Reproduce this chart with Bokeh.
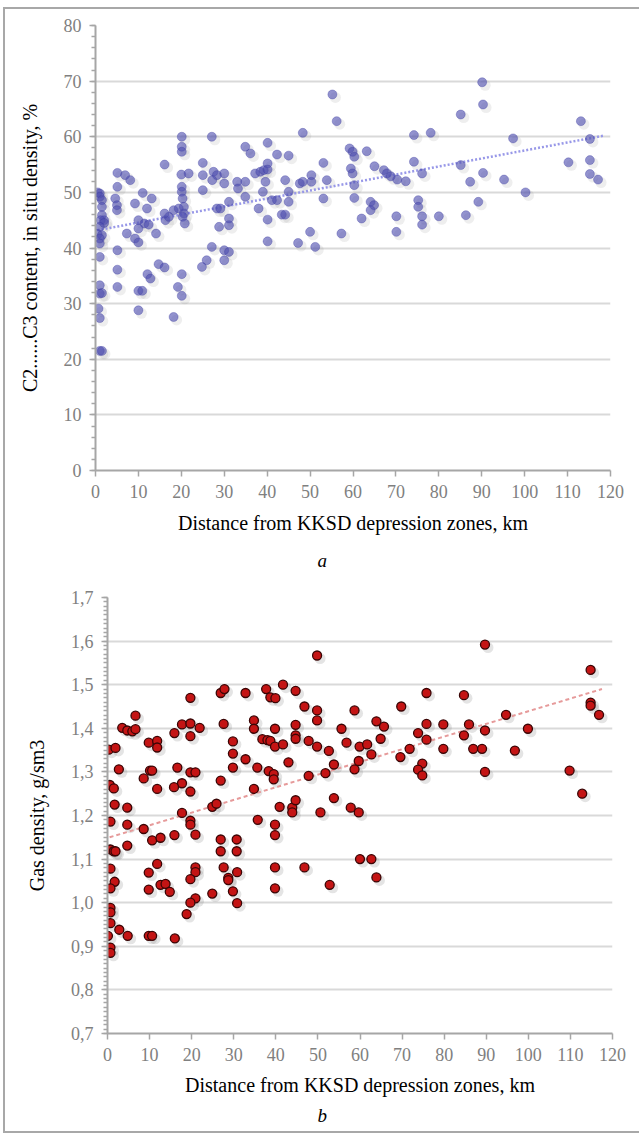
import numpy as np
from bokeh.plotting import figure
from bokeh.layouts import column
from bokeh.models import FixedTicker, CustomJSTickFormatter, Title, Range1d
from bokeh.embed import file_html
from bokeh.resources import INLINE

# ---------------- chart a: C2..C3 content vs distance ----------------
dist_a = [0.5, 1.0, 1.0, 1.5, 1.5, 1.5, 2.0, 1.2, 2.0, 1.0, 0.5, 1.5, 1.0, 1.0, 1.0, 1.0, 1.0, 1.5, 0.7, 1.0, 1.0, 1.5,
          4.6, 5.0, 5.0, 5.1, 5.1, 5.1, 5.1, 5.1, 6.9, 8.1, 7.3,
          9.2, 11.0, 13.1, 12.0, 10.0, 11.4, 12.4, 10.0, 9.2, 10.0, 10.0, 10.9, 10.0, 12.1, 12.8,
          14.1, 16.3, 17.1, 16.1, 18.2, 19.4, 16.1, 14.7, 16.1, 18.2, 19.2,
          20.1, 20.1, 20.1, 20.0, 20.1, 20.1, 20.3, 20.6, 20.6, 20.3, 20.8, 21.7, 20.1, 20.1,
          25.0, 25.0, 25.0, 27.5, 28.3, 27.2, 30.0, 30.0, 28.3, 29.1, 28.8, 31.1, 31.1, 31.1, 27.1, 30.0, 31.1, 30.0, 25.9, 24.8, 27.1,
          34.9, 36.1, 40.1, 42.3, 45.0, 40.1, 37.2, 38.4, 39.2, 40.1, 39.6, 33.0, 34.9, 33.2, 34.9, 39.0, 38.0, 40.1, 41.1, 42.3,
          43.4, 44.2, 44.2, 45.0, 45.0, 40.1,
          47.2, 50.0, 51.2, 48.3, 47.6, 48.3, 50.3, 50.3, 53.1, 53.9, 53.1, 57.3, 55.2, 56.2,
          59.2, 59.9, 60.3, 59.5, 59.9, 60.3, 60.3, 62.0,
          63.2, 65.0, 67.2, 67.9, 68.8, 70.3, 72.3, 74.2, 78.1, 74.2, 76.1, 64.1, 64.9, 64.1, 70.1, 70.1, 75.2, 75.2, 76.1, 76.1, 80.0,
          85.1, 90.3, 90.1, 85.1, 87.3, 90.3, 89.2, 86.3, 97.3, 95.2, 100.2, 113.1, 115.2, 110.2, 115.2, 115.2, 117.1]
c2c3_a = [50.0, 49.8, 49.2, 48.6, 47.4, 45.9, 45.0, 45.0, 44.5, 43.8, 42.5, 42.3, 41.7, 40.8, 38.4, 33.3, 31.8, 31.9, 29.1, 27.4, 21.5, 21.5,
          48.9, 47.7, 46.8, 53.5, 51.0, 39.6, 36.1, 33.0, 53.1, 52.2, 42.6,
          48.0, 49.9, 48.9, 47.1, 45.0, 44.4, 44.2, 43.5, 41.7, 41.0, 32.3, 32.3, 28.8, 35.3, 34.5,
          42.6, 45.0, 45.6, 46.2, 46.8, 47.1, 55.0, 37.1, 36.5, 27.6, 33.0,
          60.0, 58.2, 57.3, 53.2, 51.0, 50.1, 48.9, 47.4, 46.2, 45.6, 44.4, 53.4, 31.4, 35.3,
          55.3, 53.1, 50.4, 53.7, 53.1, 52.2, 53.4, 51.6, 47.1, 47.1, 43.8, 44.1, 45.3, 48.3, 40.2, 39.6, 39.3, 37.8, 37.8, 36.6, 60.0,
          58.2, 57.0, 58.9, 56.8, 56.6, 55.2, 53.4, 53.7, 54.0, 54.1, 51.9, 51.9, 51.9, 50.7, 49.2, 50.1, 47.1, 45.1, 48.6, 48.6,
          46.0, 46.0, 52.2, 50.1, 48.3, 41.2,
          40.9, 42.9, 40.2, 60.7, 51.6, 51.9, 51.9, 53.1, 55.3, 52.2, 48.9, 42.6, 67.6, 62.8,
          57.9, 57.3, 56.4, 54.3, 53.4, 51.3, 49.0, 45.3,
          57.4, 54.7, 54.0, 53.4, 52.9, 52.3, 52.0, 60.3, 60.7, 55.5, 53.4, 48.3, 47.7, 46.8, 45.7, 42.9, 48.6, 47.4, 45.7, 44.2, 45.7,
          64.0, 65.8, 69.8, 54.9, 51.9, 53.5, 48.3, 45.9, 59.7, 52.3, 50.0, 62.8, 59.6, 55.4, 55.8, 53.3, 52.3]
trend_x_a = [0.5, 118.5]
trend_y_a = [43.2, 60.2]

# ---------------- chart b: gas density vs distance ----------------
dist_b = [0.3, 1.9, 0.55, 1.5, 1.7, 0.7, 0.7, 1.5, 1.9, 0.7, 1.7, 0.7, 0.7, 0.7, 0.7, 2.8, 0.1, 0.7, 0.7, 2.7,
          3.5, 4.7, 5.9, 6.65, 6.65, 4.7, 4.7, 4.7, 4.8,
          9.8, 11.8, 11.8, 10.1, 10.6, 8.6, 11.8, 8.6, 10.6, 12.6, 11.8, 9.8, 9.8, 12.6, 13.8, 14.8, 9.8, 10.6,
          15.9, 17.7, 19.7, 21.9, 19.7, 19.7, 16.6, 19.7, 20.9, 17.7, 15.8, 19.7, 15.9, 17.7, 19.7, 19.7, 20.9, 20.9, 20.9, 19.7,
          20.9, 19.7, 18.8, 16.0,
          26.9, 27.8, 32.8, 27.6, 29.8, 29.8, 29.8, 32.8, 26.9, 24.9, 25.9, 26.9, 30.7, 26.9, 30.7, 24.9, 27.6, 28.7, 28.7, 30.8,
          29.8, 30.8,
          37.7, 38.7, 39.9, 41.7, 44.7, 34.8, 34.8, 39.8, 44.7, 44.7, 44.7, 36.8, 38.0, 38.7, 39.8, 41.7, 35.6, 38.3, 39.5, 39.5,
          43.0, 34.8, 35.7, 39.8, 39.8, 40.9, 43.9, 43.9, 44.7, 39.8, 39.8,
          49.8, 46.8, 49.8, 49.8, 58.7, 55.6, 47.8, 49.8, 52.6, 56.8, 59.9, 47.8, 51.8, 53.8, 58.7, 59.7, 50.6, 53.8, 57.8, 59.7,
          46.8, 52.8, 60.0, 62.7, 63.9,
          89.7, 114.8, 75.8, 84.7, 69.8, 114.8, 114.8, 116.8, 94.7, 63.9, 65.7, 75.8, 79.8, 85.9, 99.9, 73.8, 75.8, 84.7, 89.7,
          64.9, 61.7, 79.8, 86.9, 89.0, 96.8, 71.8, 62.7, 69.6, 74.8, 73.8, 74.8, 89.7, 109.8, 112.8]
dens_b = [1.351, 1.355, 1.270, 1.262, 1.225, 1.186, 1.122, 1.118, 1.118, 1.078, 1.048, 1.033, 0.988, 0.978, 0.953, 0.938,
          0.924, 0.897, 0.885, 1.306,
          1.401, 1.395, 1.393, 1.398, 1.429, 1.218, 1.179, 1.131, 0.924,
          1.367, 1.371, 1.356, 1.303, 1.303, 1.285, 1.261, 1.169, 1.143, 1.149, 1.089, 1.069, 1.030, 1.041, 1.043, 1.025, 0.924,
          0.924,
          1.389, 1.409, 1.411, 1.401, 1.382, 1.470, 1.310, 1.299, 1.299, 1.274, 1.265, 1.255, 1.155, 1.206, 1.188, 1.179, 1.156,
          1.081, 1.070, 1.054, 1.010, 1.000, 0.974, 0.918,
          1.481, 1.490, 1.481, 1.410, 1.370, 1.342, 1.310, 1.329, 1.280, 1.220, 1.227, 1.145, 1.145, 1.118, 1.118, 1.021, 1.081,
          1.057, 1.052, 1.070, 1.026, 0.999,
          1.490, 1.471, 1.469, 1.500, 1.486, 1.418, 1.399, 1.399, 1.408, 1.384, 1.376, 1.375, 1.373, 1.371, 1.358, 1.363, 1.310,
          1.302, 1.295, 1.283, 1.322, 1.261, 1.190, 1.179, 1.155, 1.220, 1.218, 1.207, 1.235, 1.081, 1.033,
          1.567, 1.450, 1.441, 1.418, 1.441, 1.399, 1.371, 1.358, 1.348, 1.367, 1.358, 1.291, 1.297, 1.317, 1.306, 1.325, 1.207,
          1.240, 1.218, 1.207, 1.081, 1.041, 1.100, 1.100, 1.058,
          1.592, 1.534, 1.481, 1.476, 1.450, 1.459, 1.452, 1.431, 1.431, 1.416, 1.404, 1.410, 1.409, 1.409, 1.399, 1.389, 1.374,
          1.384, 1.395, 1.376, 1.363, 1.353, 1.353, 1.353, 1.349, 1.353, 1.340, 1.334, 1.319, 1.305, 1.292, 1.300, 1.303, 1.250]
trend_x_b = [0.5, 117.5]
trend_y_b = [1.15, 1.49]

x_ticks = list(range(0, 121, 10))
y_ticks_a = list(range(0, 81, 10))
y_ticks_b = [0.7, 0.8, 0.9, 1.0, 1.1, 1.2, 1.3, 1.4, 1.5, 1.6, 1.7]

SERIF = "Liberation Serif"
TICK_COLOR = "#808080"
AXIS_COLOR = "#a6a6a6"
GRID_COLOR = "#d9d9d9"


def make_fig(width, height, xr, yr, borders, y_ticks, y_minor, y_title, tag, tag_offset, tag_standoff,
             x_title, x_title_standoff):
    left, right, top, bottom = borders
    p = figure(width=width, height=height, x_range=Range1d(*xr), y_range=Range1d(*yr),
               output_backend="svg", toolbar_location=None,
               min_border_left=left, min_border_right=right,
               min_border_top=top, min_border_bottom=bottom)
    p.outline_line_color = None
    p.background_fill_color = "white"
    p.border_fill_color = "white"
    p.xgrid.grid_line_color = None
    p.ygrid.grid_line_color = GRID_COLOR
    p.ygrid.grid_line_width = 2

    p.xaxis.ticker = FixedTicker(ticks=x_ticks)
    p.yaxis.ticker = FixedTicker(ticks=y_ticks, minor_ticks=y_minor)
    for ax in (p.xaxis[0], p.yaxis[0]):
        ax.axis_line_color = AXIS_COLOR
        ax.axis_line_width = 2
        ax.major_tick_line_color = AXIS_COLOR
        ax.major_tick_line_width = 1.5
        ax.major_tick_in = 0
        ax.major_tick_out = 6
        ax.minor_tick_line_color = AXIS_COLOR
        ax.minor_tick_line_width = 1.5
        ax.minor_tick_in = 0
        ax.minor_tick_out = 4
        ax.major_label_text_font = SERIF
        ax.major_label_text_font_size = "18px"
        ax.major_label_text_color = TICK_COLOR
        ax.axis_label_text_font = SERIF
        ax.axis_label_text_font_size = "20px"
        ax.axis_label_text_font_style = "normal"
        ax.axis_label_text_color = "black"
    p.xaxis.minor_tick_line_color = None
    p.xaxis.axis_label = x_title
    p.yaxis.axis_label = y_title
    p.xaxis.major_label_standoff = 8
    p.xaxis.axis_label_standoff = x_title_standoff
    p.yaxis.major_label_standoff = 8
    p.yaxis.axis_label_standoff = 20
    p.add_layout(Title(text=tag, align="left", offset=tag_offset, text_font=SERIF,
                       text_font_size="19px", text_font_style="italic",
                       text_color="black", standoff=tag_standoff), "below")
    return p


# ----- figure a -----
p1 = make_fig(634, 573, (0, 120), (0, 80), (90, 29, 16, 112), y_ticks_a,
              list(range(0, 81, 2)), "C2......C3 content, in situ density, %", "a", 222, 22,
              "Distance from KKSD depression zones, km", 11)
sx_a = 3 * 120 / 515
sy_a = 3 * 80 / 445
p1.scatter([d + sx_a for d in dist_a], [c - sy_a for c in c2c3_a], size=11,
           fill_color="#7a7a7a", fill_alpha=0.13, line_color=None)
p1.line(trend_x_a, trend_y_a, line_color="#9898e8", line_width=2.5, line_dash="2 2")
p1.scatter(dist_a, c2c3_a, size=9, fill_color="#4f4fb0", fill_alpha=0.62,
           line_color="#3c3ca0", line_alpha=0.35, line_width=1)

# ----- figure b -----
p2 = make_fig(634, 549, (0, 120), (0.7, 1.7), (102, 27, 15, 98), y_ticks_b,
              [round(0.7 + 0.01 * i, 2) for i in range(101)], "Gas density, g/sm3", "b", 210, 8,
              "Distance from KKSD depression zones, km", 10)
p2.yaxis.formatter = CustomJSTickFormatter(code="return tick.toFixed(1).replace('.', ',');")
sx_b = 3 * 120 / 505
sy_b = 3 * 1.0 / 436
p2.scatter([d + sx_b for d in dist_b], [v - sy_b for v in dens_b], size=11,
           fill_color="#6a6a6a", fill_alpha=0.18, line_color=None)
p2.line(trend_x_b, trend_y_b, line_color="#e69a9a", line_width=2, line_dash="4 3")
p2.scatter(dist_b, dens_b, size=9, fill_color="#c41414", line_color="#3a0505", line_width=1.3)

layout = column(column(p1), column(p2), margin=(7, 0, 0, 3), styles={"border": "2px solid #a8a8a8"})

open("out.html", "w").write(file_html(layout, INLINE))
